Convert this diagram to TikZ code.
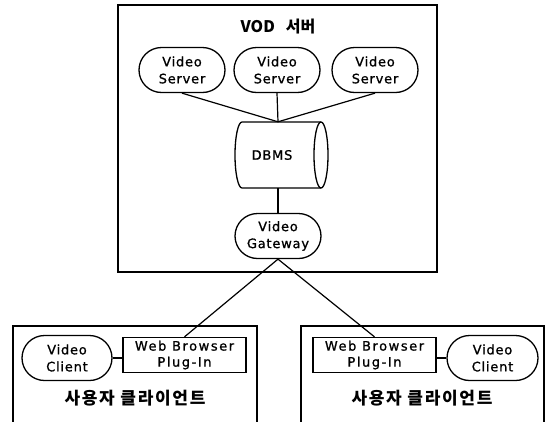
\documentclass[tikz,border=0pt]{standalone}
\usepackage{fontspec}
\setmainfont[LetterSpace=6,FakeBold=1]{DejaVu Sans}
\newfontfamily\krfont[LetterSpace=10]{Noto Sans CJK KR}
\newfontfamily\krtop{Noto Sans CJK KR}
\usetikzlibrary{shapes.misc}
\begin{document}
\begin{tikzpicture}[x=1pt,y=-1pt,
  every node/.style={font=\fontsize{13}{17}\selectfont, align=center, inner sep=0pt},
  frame/.style={draw, line width=1.6pt},
  oval/.style={draw, line width=1.3pt, rounded rectangle, minimum width=86pt, minimum height=45pt},
  plugbox/.style={draw, line width=1.3pt, rectangle, minimum width=123pt, minimum height=35pt,
    font=\addfontfeatures{LetterSpace=12}\fontsize{13}{16}\selectfont},
  link/.style={line width=1.2pt},
  title/.style={font=\krfont\bfseries\fontsize{17}{20}\selectfont},
  toptitle/.style={font=\krtop\bfseries\fontsize{16}{20}\selectfont},
  dbbody/.style={line width=1.3pt}
]
\useasboundingbox (0,0) rectangle (552,421);
% server frame
\node[frame, rectangle, minimum width=319pt, minimum height=267pt] (top) at (277.5,138.5) {};
\node[toptitle] (ttl) at (278,27) {VOD\ \ \ 서버};
\node[oval] (s1) at (182,70) {Video\\Server};
\node[oval] (s2) at (277,70) {Video\\Server};
\node[oval] (s3) at (375,70) {Video\\Server};
\node[rectangle, minimum width=84pt, minimum height=66pt] (db) at (278,155) {DBMS\hspace*{12pt}};
\draw[dbbody] (321,122) -- (242,122) arc[start angle=270, end angle=90, x radius=7, y radius=33] -- (321,188);
\draw[dbbody] (321,155) ellipse[x radius=7, y radius=33];
\node[oval] (gw) at (278,236) {Video\\Gateway};
\draw[link] (s1.south) -- (db.north);
\draw[link] (s2.south) -- (db.north);
\draw[link] (s3.south) -- (db.north);
\draw[link] (db.south) -- (gw.north);
% client frames
\coordinate (l1) at (13,430); \coordinate (l2) at (13,326);
\coordinate (l3) at (257,326); \coordinate (l4) at (257,430);
\draw[frame] (l1) -- (l2) -- (l3) -- (l4);
\coordinate (r1) at (301,430); \coordinate (r2) at (301,326);
\coordinate (r3) at (544,326); \coordinate (r4) at (544,430);
\draw[frame] (r1) -- (r2) -- (r3) -- (r4);
\node[oval, minimum width=90pt] (vc1) at (67,358) {Video\\Client};
\node[plugbox] (wb1) at (184.5,355) {Web Browser\\Plug-In};
\node[plugbox] (wb2) at (374.5,355) {Web Browser\\Plug-In};
\node[oval, minimum width=91pt] (vc2) at (492.5,358) {Video\\Client};
\node[title] (t1) at (135,398) {사용자 클라이언트};
\node[title] (t2) at (422,398) {사용자 클라이언트};
\draw[link] (vc1.east) -- (vc1.east -| wb1.west);
\draw[link] (wb2.east |- vc2.west) -- (vc2.west);
\draw[link] (gw.south) -- (wb1.north);
\draw[link] (gw.south) -- (wb2.north);
\end{tikzpicture}
\end{document}
